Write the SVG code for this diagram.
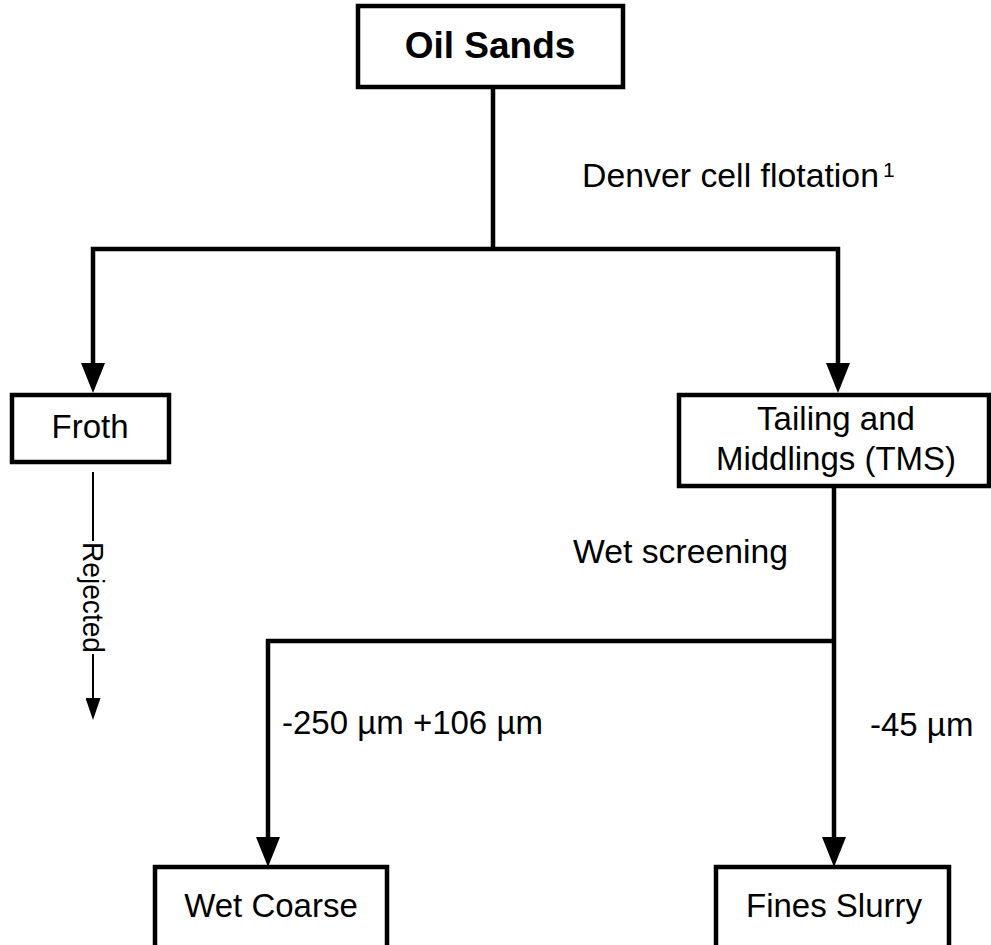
<svg xmlns="http://www.w3.org/2000/svg" width="991" height="945" viewBox="0 0 991 945">
<style>
.box{fill:#fff;stroke:#000;stroke-width:4.5}
.lbl{font-family:"Liberation Sans",Arial,sans-serif;font-size:33px;fill:#000}
.c{stroke:#000;stroke-width:4.5;fill:none;stroke-linejoin:miter}
.thin{stroke:#000;stroke-width:2;fill:none}
</style>
<defs>
<marker id="ah" viewBox="0 0 30 24" refX="15" refY="12" markerWidth="30" markerHeight="24" markerUnits="userSpaceOnUse" orient="auto-start-reverse">
<path d="M0,0 L30,12 L0,24 z" fill="#000"/>
</marker>
<marker id="ahs" viewBox="0 0 22 15" refX="11" refY="7.5" markerWidth="22" markerHeight="15" markerUnits="userSpaceOnUse" orient="auto">
<path d="M0,0 L22,7.5 L0,15 z" fill="#000"/>
</marker>
</defs>
<rect width="991" height="945" fill="#fff"/>
<g id="connectors">
<path class="c" d="M493,87 V249"/>
<path class="c" d="M93,378 V249 H838 V378" marker-start="url(#ah)" marker-end="url(#ah)"/>
<path class="c" d="M834,486 V852" marker-end="url(#ah)"/>
<path class="c" d="M268,852 V641 H834" marker-start="url(#ah)"/>
<path class="thin" d="M93,472 V541"/>
<path class="thin" d="M93,654 V709" marker-end="url(#ahs)"/>
<text class="lbl" x="582" y="187" textLength="297" lengthAdjust="spacingAndGlyphs">Denver cell flotation</text>
<text class="lbl" x="883" y="177" style="font-size:21px">1</text>
<text class="lbl" x="573" y="563" textLength="215" lengthAdjust="spacingAndGlyphs">Wet screening</text>
<text class="lbl" x="282" y="734">-250 µm +106 µm</text>
<text class="lbl" x="870" y="736">-45 µm</text>
<text class="lbl" transform="translate(83,597.5) rotate(90)" text-anchor="middle" textLength="111" lengthAdjust="spacingAndGlyphs" style="font-size:30px">Rejected</text>
</g>
<g id="oil-sands">
<rect class="box" x="358" y="6" width="265" height="81"/>
<text class="lbl" x="490" y="58" text-anchor="middle" style="font-size:37px;font-weight:bold">Oil Sands</text>
</g>
<g id="froth">
<rect class="box" x="12" y="395" width="157" height="67"/>
<text class="lbl" x="90" y="438" text-anchor="middle">Froth</text>
</g>
<g id="tms">
<rect class="box" x="679" y="395" width="310" height="91"/>
<text class="lbl" x="836" y="430" text-anchor="middle">Tailing and</text>
<text class="lbl" x="836" y="470" text-anchor="middle">Middlings (TMS)</text>
</g>
<g id="wet-coarse">
<rect class="box" x="155" y="867" width="232" height="100"/>
<text class="lbl" x="271" y="917" text-anchor="middle">Wet Coarse</text>
</g>
<g id="fines-slurry">
<rect class="box" x="716" y="867" width="233" height="100"/>
<text class="lbl" x="834" y="917" text-anchor="middle">Fines Slurry</text>
</g>
</svg>
